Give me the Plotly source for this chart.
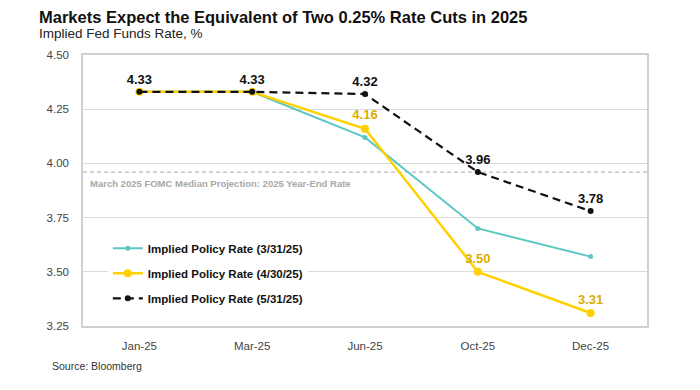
import plotly.graph_objects as go

categories = ["Jan-25", "Mar-25", "Jun-25", "Oct-25", "Dec-25"]
rate_mar31 = [4.33, 4.33, 4.12, 3.70, 3.57]
rate_apr30 = [4.33, 4.33, 4.16, 3.50, 3.31]
rate_may31 = [4.33, 4.33, 4.32, 3.96, 3.78]
fomc_median = 3.96
y_ticks = [3.25, 3.50, 3.75, 4.00, 4.25, 4.50]
apr_labels = ["", "", "4.16", "3.50", "3.31"]
may_labels = ["4.33", "4.33", "4.32", "3.96", "3.78"]

NARROW = "Liberation Sans Narrow, Arial Narrow, sans-serif"
SANS = "Liberation Sans, Arial, sans-serif"
TEAL = "#5CC6C2"
YELLOW = "#FFD100"
YELLOW_TXT = "#D9AE00"

fig = go.Figure()

fig.add_trace(go.Scatter(
    x=categories, y=rate_mar31, mode="lines+markers",
    name="Implied Policy Rate (3/31/25)", legendgroup="a",
    line=dict(color=TEAL, width=2), marker=dict(size=5, color=TEAL),
))
fig.add_trace(go.Scatter(
    x=categories, y=rate_apr30, mode="lines+markers+text",
    name="Implied Policy Rate (4/30/25)", legendgroup="b",
    line=dict(color=YELLOW, width=2.5), marker=dict(size=8, color=YELLOW),
    text=apr_labels, textposition="top center",
    textfont=dict(family=NARROW, size=13, color=YELLOW_TXT, weight="bold"),
))
fig.add_trace(go.Scatter(
    x=categories, y=rate_may31, mode="lines+markers+text",
    name="Implied Policy Rate (5/31/25)", legendgroup="c",
    line=dict(color="#111111", width=2.2, dash="8px,5px"), marker=dict(size=6, color="#111111"),
    text=may_labels, textposition="top center",
    textfont=dict(family=NARROW, size=13, color="#111111", weight="bold"),
))

fig.add_shape(type="line", xref="paper", yref="y", x0=0, x1=1, y0=fomc_median, y1=fomc_median,
              line=dict(color="#BBBBBB", width=1.2, dash="4px,3px"), layer="below")
fig.add_annotation(xref="paper", yref="y", x=0.008, y=fomc_median, yshift=-11,
                   text="<b>March 2025 FOMC Median Projection: 2025 Year-End Rate</b>",
                   showarrow=False, xanchor="left", yanchor="middle",
                   font=dict(family=NARROW, size=9.5, color="#A8A8A8"))

fig.add_annotation(xref="paper", yref="paper", x=-0.082, y=1.098, xanchor="left", yanchor="bottom",
                   text="<b>Markets Expect the Equivalent of Two 0.25% Rate Cuts in 2025</b>",
                   showarrow=False, font=dict(family=NARROW, size=16.5, color="#111111"))
fig.add_annotation(xref="paper", yref="paper", x=-0.082, y=1.045, xanchor="left", yanchor="bottom",
                   text="Implied Fed Funds Rate, %",
                   showarrow=False, font=dict(family=NARROW, size=13.5, color="#222222"))
fig.add_annotation(xref="paper", yref="paper", x=-0.058, y=-0.148, xanchor="left", yanchor="middle",
                   text="Source: Bloomberg",
                   showarrow=False, font=dict(family=SANS, size=10.5, color="#333333"))

fig.update_layout(
    width=692, height=382,
    margin=dict(l=75, r=53, t=47, b=64),
    paper_bgcolor="white", plot_bgcolor="white",
    showlegend=True,
    legend=dict(x=0.044, y=0.34, xanchor="left", yanchor="top", bgcolor="white",
                font=dict(family=NARROW, size=11.5, color="#111111", weight="bold"),
                tracegroupgap=6, itemwidth=30),
    xaxis=dict(type="category", categoryorder="array", categoryarray=categories,
               range=[-0.5, 4.5], showgrid=False, showline=True, linecolor="#D0D0D0",
               linewidth=1.5, mirror=True, ticks="", ticklabelstandoff=8,
               tickfont=dict(family=NARROW, size=11.5, color="#444444")),
    yaxis=dict(range=[3.25, 4.50], tickvals=y_ticks, tickformat=".2f",
               showgrid=True, gridcolor="#DADADA", gridwidth=1, showline=True,
               linecolor="#D0D0D0", linewidth=1.5, mirror=True, zeroline=False, ticks="",
               ticklabelstandoff=10,
               tickfont=dict(family=NARROW, size=11.5, color="#444444")),
)

fig.write_html("out.html")
